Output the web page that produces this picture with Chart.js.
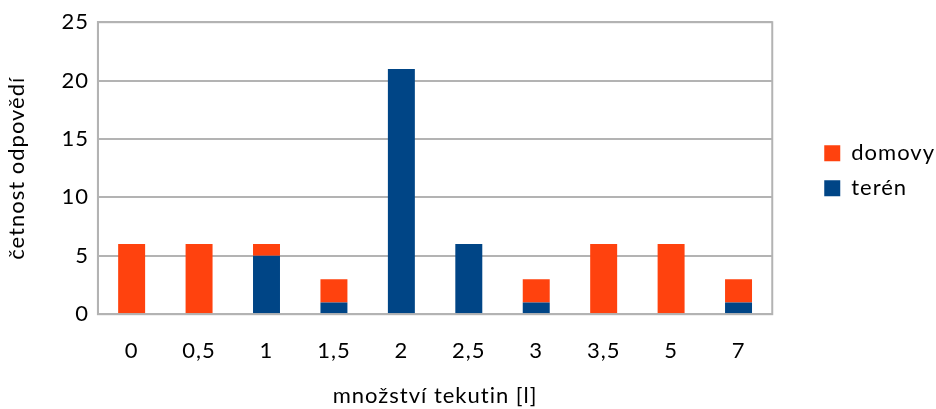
<!DOCTYPE html>
<html lang="cs">
<head>
    <meta charset="UTF-8">
    <title>Množství tekutin</title>
    <script src="https://cdn.jsdelivr.net/npm/chart.js"></script>
    <style>
        html, body { margin: 0; padding: 0; background: #fff; }
        #wrap { width: 936px; height: 409px; }
    </style>
</head>
<body>
    <div id="wrap"><canvas id="chart" width="936" height="409"></canvas></div>
    <script>
        // hodnoty
        const kategorie = ['0', '0,5', '1', '1,5', '2', '2,5', '3', '3,5', '5', '7'];
        const teren = [0, 0, 5, 1, 21, 6, 1, 0, 0, 1];
        const domovy = [6, 6, 1, 2, 0, 0, 2, 6, 6, 2];
        const yTicks = [0, 5, 10, 15, 20, 25];

        const seda = '#b3b3b3';
        const font = { family: 'Lato', size: 22 };

        // rámeček kolem plochy grafu + mírně prostrkané písmo
        const ramecek = {
            id: 'ramecek',
            beforeLayout(chart) { chart.ctx.letterSpacing = '1px'; },
            beforeDraw(chart) { chart.ctx.letterSpacing = '1px'; },
            afterDatasetsDraw(chart) {
                const a = chart.chartArea, c = chart.ctx;
                c.save();
                c.strokeStyle = seda;
                c.lineWidth = 2;
                c.strokeRect(a.left, a.top, a.right - a.left, a.bottom - a.top);
                c.restore();
            }
        };

        new Chart(document.getElementById('chart'), {
            type: 'bar',
            data: {
                labels: kategorie,
                datasets: [
                    { label: 'terén', data: teren, backgroundColor: '#004586' },
                    { label: 'domovy', data: domovy, backgroundColor: '#ff420e' }
                ]
            },
            options: {
                responsive: false,
                animation: false,
                layout: { padding: { top: 10, right: -9, left: 4, bottom: 0 } },
                datasets: { bar: { barPercentage: 0.8, categoryPercentage: 0.5 } },
                plugins: {
                    tooltip: { enabled: false },
                    legend: {
                        position: 'right',
                        align: 'start',
                        reverse: true,
                        title: { display: true, text: ' ', font: { size: 1 }, padding: { top: 118, bottom: 0 } },
                        labels: {
                            font: font,
                            color: '#000',
                            boxWidth: 16,
                            boxHeight: 16,
                            padding: 13
                        }
                    }
                },
                scales: {
                    x: {
                        stacked: true,
                        grid: { display: false },
                        border: { color: seda, width: 2 },
                        ticks: { font: font, color: '#000', padding: 16 },
                        title: { display: true, text: 'množství tekutin [l]', font: font, color: '#000', padding: { top: 2, bottom: 0 } }
                    },
                    y: {
                        stacked: true,
                        min: 0,
                        max: 25,
                        afterBuildTicks: axis => { axis.ticks = yTicks.map(v => ({ value: v })); },
                        grid: { color: seda, lineWidth: 2, drawTicks: false },
                        border: { color: seda, width: 2 },
                        ticks: { font: font, color: '#000', padding: 9 },
                        title: { display: true, text: 'četnost odpovědí', font: font, color: '#000', padding: { top: 0, bottom: 22 } }
                    },
                    // prázdná mezera mezi grafem a legendou
                    mezera: {
                        position: 'right',
                        display: true,
                        grid: { display: false },
                        border: { display: false },
                        ticks: { display: false },
                        afterFit: axis => { axis.width = 39; }
                    }
                }
            },
            plugins: [ramecek]
        });
    </script>
</body>
</html>
